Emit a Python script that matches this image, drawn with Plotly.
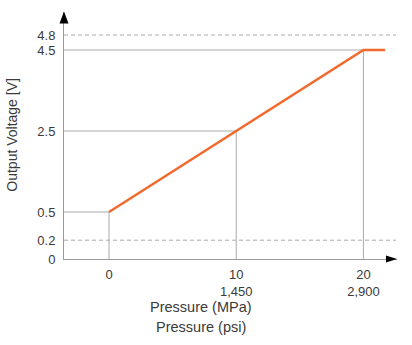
import numpy as np
import plotly.graph_objects as go

# ---- data ----
pressure_mpa = [0, 20, 21.7]          # output curve (MPa)
output_v = [0.5, 4.5, 4.5]            # output curve (V)

key_mpa = [0, 10, 20]                 # guide points
key_v = [0.5, 2.5, 4.5]
x_tick_mpa = ["0", "10", "20"]
x_tick_psi = ["", "1,450", "2,900"]

y_tick_v = [0, 0.2, 0.5, 2.5, 4.5, 4.8]
y_tick_text = ["0", "0.2", "0.5", "2.5", "4.5", "4.8"]
limit_v = [0.2, 4.8]                  # dashed limit lines

# schematic (broken) voltage scale: stretched below 0.5 V and above 4.5 V
SCALE_V = [0.0, 0.5, 4.5, 4.8]
SCALE_POS = [-0.66, 0.5, 4.5, 4.87]


def vpos(v):
    return np.interp(v, SCALE_V, SCALE_POS)


ORANGE = "#F26A2B"
GRID = "#ababab"
TEXT = "#3a3a3a"
FONT = "Liberation Sans, Arial, sans-serif"

X_RANGE = [-3.54, 22.64]
Y_RANGE = [-0.6605, 5.438]

fig = go.Figure()

# guide lines from axis to each key point
gx, gy = [], []
for p, v in zip(key_mpa, key_v):
    gx += [X_RANGE[0], p, p, None]
    gy += [vpos(v), vpos(v), Y_RANGE[0], None]
fig.add_trace(go.Scatter(x=gx, y=gy, mode="lines",
                         line=dict(color=GRID, width=1),
                         hoverinfo="skip", showlegend=False))

# output curve
fig.add_trace(go.Scatter(x=pressure_mpa, y=vpos(output_v), mode="lines",
                         line=dict(color=ORANGE, width=2.5),
                         showlegend=False))

shapes = []
for lv in limit_v:
    shapes.append(dict(type="line", xref="paper", yref="y",
                       x0=0, x1=0.997, y0=vpos(lv), y1=vpos(lv),
                       line=dict(color=GRID, width=1, dash="4px,3px")))
# axis arrowheads
shapes.append(dict(type="path", xref="paper", yref="paper",
                   path="M 0,1.002 L -0.0135,0.953 L 0.0135,0.953 Z",
                   fillcolor="black", line=dict(width=0)))
shapes.append(dict(type="path", xref="paper", yref="paper",
                   path="M 1,0 L 0.967,0.0142 L 0.967,-0.0142 Z",
                   fillcolor="black", line=dict(width=0)))

annotations = [
    dict(text="Pressure (MPa)", xref="paper", yref="paper", x=0.41, y=-0.196,
         xanchor="center", yanchor="middle", showarrow=False,
         font=dict(family=FONT, size=14.5, color=TEXT)),
    dict(text="Pressure (psi)", xref="paper", yref="paper", x=0.41, y=-0.277,
         xanchor="center", yanchor="middle", showarrow=False,
         font=dict(family=FONT, size=14.5, color=TEXT)),
    dict(text="Output Voltage [V]", xref="paper", yref="paper", x=-0.157, y=0.502,
         xanchor="center", yanchor="middle", textangle=-90, showarrow=False,
         font=dict(family=FONT, size=14, color=TEXT)),
]

x_ticktext = [m if not p else f"{m}<br>{p}" for m, p in zip(x_tick_mpa, x_tick_psi)]

fig.update_layout(
    width=412, height=345,
    margin=dict(l=64, r=15, t=12, b=86),
    paper_bgcolor="white", plot_bgcolor="white",
    font=dict(family=FONT, size=13, color=TEXT),
    shapes=shapes, annotations=annotations,
    xaxis=dict(range=X_RANGE, showgrid=False, zeroline=False,
               showline=True, linecolor="#9a9a9a", linewidth=1,
               tickvals=key_mpa, ticktext=x_ticktext, ticks="",
               ticklabelstandoff=3, fixedrange=True),
    yaxis=dict(range=Y_RANGE, showgrid=False, zeroline=False,
               showline=True, linecolor="#9a9a9a", linewidth=1,
               tickvals=list(vpos(y_tick_v)), ticktext=y_tick_text, ticks="",
               ticklabelstandoff=5, fixedrange=True),
)

fig.write_html("out.html")
